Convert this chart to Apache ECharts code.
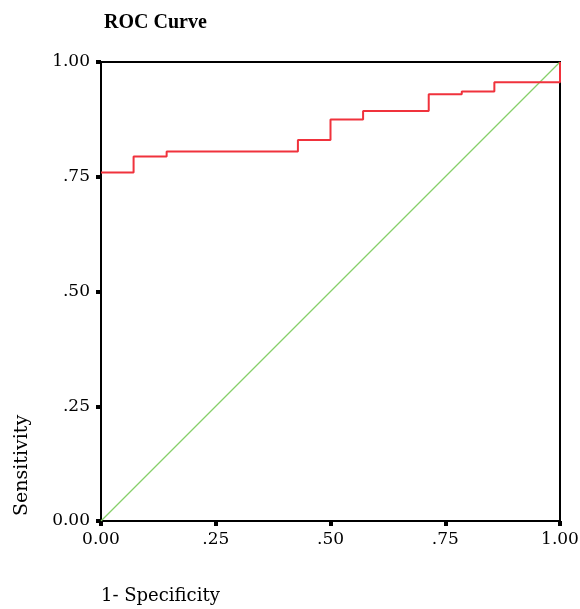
<!DOCTYPE html>
<html>
<head>
<meta charset="utf-8"/>
<title>ROC Curve</title>
<script src="https://cdn.jsdelivr.net/npm/echarts@6/dist/echarts.min.js"></script>
<style>
	html,body{margin:0;padding:0;background:#fff;}
	#chart{width:580px;height:609px;}
</style>
</head>
<body>
<div id="chart"></div>
<script type="text/javascript">
	// ROC corners (1 - specificity, sensitivity)
	var fpr = [0, 0.071, 0.143, 0.429, 0.5, 0.571, 0.714, 0.786, 0.857, 1];
	var tpr = [0.759, 0.794, 0.805, 0.830, 0.875, 0.893, 0.930, 0.936, 0.956, 1];
	var refX = [0, 1];
	var refY = [0, 1];
	var tickValues = [0, 0.25, 0.5, 0.75, 1];
	var tickLabels = ['0.00', '.25', '.50', '.75', '1.00'];

	function pairs(xs, ys){
		var out = [];
		for (var i = 0; i < xs.length; i++) out.push([xs[i], ys[i]]);
		return out;
	}
	function fmt(v){
		var i = tickValues.indexOf(Math.round(v * 100) / 100);
		return i >= 0 ? tickLabels[i] : '';
	}

	var font = '"DejaVu Serif", "Liberation Serif", serif';
	var axisCommon = {
		type: 'value', min: 0, max: 1, interval: 0.25,
		axisLine: {show: true, lineStyle: {color: '#000', width: 2}},
		axisTick: {show: true, length: 5, lineStyle: {color: '#000', width: 4}},
		axisLabel: {formatter: fmt, color: '#000', fontFamily: font, fontSize: 17},
		splitLine: {show: false}
	};

	var myChart = echarts.init(document.getElementById('chart'));
	var option = {
		animation: false,
		backgroundColor: '#fff',
		grid: {left: 101, right: 20, top: 62, bottom: 88, outerBoundsMode: 'none', containLabel: false,
			show: true, borderColor: '#000', borderWidth: 2},
		xAxis: echarts.util.merge({axisLabel: {margin: 10}}, axisCommon),
		yAxis: echarts.util.merge({axisLabel: {margin: 11}}, axisCommon),
		graphic: [
			{type: 'text', left: 104, top: 13, style: {text: 'ROC Curve', font: 'bold 20px "Liberation Serif", serif', fill: '#000'}},
			{type: 'text', left: 101, top: 587, style: {text: '1- Specificity', font: '18px ' + font, fill: '#000'}},
			{type: 'text', x: 13, y: 516, rotation: Math.PI / 2,
				style: {text: 'Sensitivity', font: '19px ' + font, fill: '#000', textAlign: 'left', textVerticalAlign: 'top'}}
		],
		series: [
			{type: 'line', data: pairs(refX, refY), symbol: 'none', lineStyle: {color: '#86cf6a', width: 1.2}},
			{type: 'line', data: pairs(fpr, tpr), step: 'end', symbol: 'none', lineStyle: {color: '#f0323c', width: 2}}
		]
	};
	myChart.setOption(option);
</script>
</body>
</html>
